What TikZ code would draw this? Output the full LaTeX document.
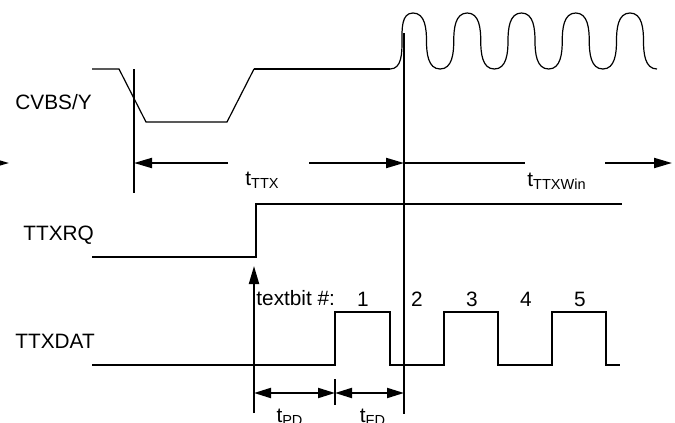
\documentclass[tikz,border=0pt]{standalone}
\usepackage{fontspec}
\setmainfont{Liberation Sans}
\usetikzlibrary{arrows.meta}

\newcommand{\tsub}[1]{t\textsubscript{#1}}

\begin{document}
\begin{tikzpicture}[
  x=0.5pt, y=-0.5pt,
  lbl/.style={font=\fontsize{10.4}{12}\selectfont, inner sep=0pt},
  sig/.style={line width=1pt},
  wave/.style={line width=0.6pt},
  tip/.style={-{Triangle[length=9pt,width=5pt]}, line width=1pt},
  dim/.style={{Triangle[length=8.5pt,width=5pt]}-{Triangle[length=8.5pt,width=5pt]}, line width=1pt}
]
\useasboundingbox (0,0) rectangle (675,423);

% signal names
\node[lbl, anchor=base west] (cvbs)   at (15,109) {CVBS/Y};
\node[lbl, anchor=base west] (ttxrq)  at (23,240) {TTXRQ};
\node[lbl, anchor=base west] (ttxdat) at (15,348) {TTXDAT};

% reference lines
\coordinate (refa top) at (134,69);
\coordinate (refa bot) at (134,193);
\coordinate (refb top) at (404,33);
\coordinate (refb bot) at (404,414);
\draw[sig] (refa top) -- (refa bot);
\draw[sig] (refb top) -- (refb bot);

% CVBS/Y
\draw[wave] (92,69) -- (119,69) -- (146,122) -- (227,122) -- (254,69);
\draw[sig] (254,69) -- (390,69);
\draw[wave] (390,69) to[out=0,in=-90] (402,41) to[out=90,in=180] (413,13)
  foreach \p in {413,467.25,521.5,575.75} {
    to[out=0,in=90] (\p+13.5,41) to[out=-90,in=180] (\p+27.125,69)
    to[out=0,in=-90] (\p+40.75,41) to[out=90,in=180] (\p+54.25,13)
  }
  to[out=0,in=90] (643.5,41) to[out=-90,in=180] (657,69);

% window arrows
\coordinate (ttx a) at (228,163);
\coordinate (ttx b) at (309,163);
\coordinate (win a) at (525,163);
\coordinate (win b) at (605,163);
\draw[tip] (-20,163) -- (9,163);
\draw[tip] (ttx a) -- (refa top |- ttx a);
\draw[tip] (ttx b) -- (refb top |- ttx b);
\draw[sig] (refb top |- ttx b) -- (win a);
\draw[tip] (win b) -- (672,163);
\node[lbl, anchor=base west] (lttx) at (245,185) {\tsub{TTX}};
\node[lbl, anchor=base west] (lwin) at (527,186) {\tsub{TTXWin}};

% TTXRQ
\draw[sig] (92,257) -- (256,257) -- (256,204) -- (622,204);
\coordinate (req bot) at (254,413);
\coordinate (req tip) at (254,266);
\draw[tip] (req bot) -- (req tip);

% TTXDAT
\draw[sig] (92,365) -- (335,365) -- (335,312) -- (390,312) -- (390,365)
  -- (444,365) -- (444,312) -- (498,312) -- (498,365)
  -- (552,365) -- (552,312) -- (606,312) -- (606,365) -- (620,365);
\node[lbl, anchor=base west] (bitlbl) at (256,305) {textbit \#:};
\foreach \x [count=\i] in {363,417,472,526,580}
  \node[lbl, anchor=base] (bit\i) at (\x,306) {\i};

% delays
\coordinate (pd a) at (254,393);
\coordinate (pd b) at (335,393);
\coordinate (fd b) at (404,393);
\draw[sig] (335,379) -- (335,405);
\draw[dim] (pd a) -- (pd b);
\draw[dim] (pd b) -- (fd b);
\node[lbl, anchor=base] (lpd) at (290,422) {\tsub{PD}};
\node[lbl, anchor=base] (lfd) at (373,422) {\tsub{FD}};
\end{tikzpicture}
\end{document}
